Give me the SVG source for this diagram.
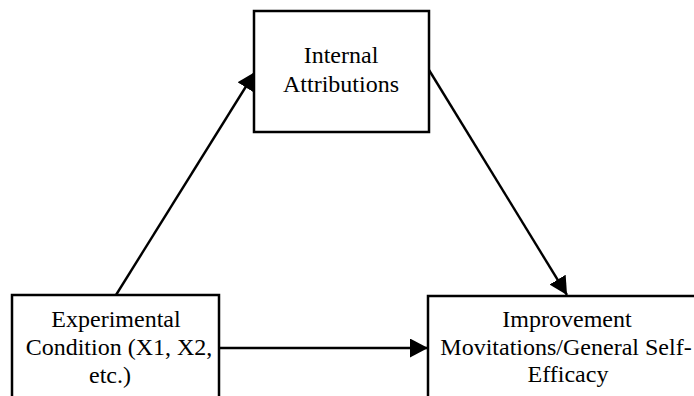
<svg xmlns="http://www.w3.org/2000/svg" width="694" height="396" viewBox="0 0 694 396">
  <style>
    .box { fill: #ffffff; stroke: #000000; stroke-width: 2.5; }
    .label { font-family: "Liberation Serif", "Times New Roman", serif; font-size: 24px; fill: #000000; text-anchor: middle; }
    .edge { stroke: #000000; stroke-width: 2.4; fill: none; marker-end: url(#head); }
  </style>
  <defs>
    <marker id="head" markerUnits="userSpaceOnUse" markerWidth="20" markerHeight="20" refX="18" refY="9.5" orient="auto">
      <path d="M0,0 L18,9.5 L0,19 Z" fill="#000000"/>
    </marker>
  </defs>
  <rect width="694" height="396" fill="#ffffff"/>

  <g id="connectors">
    <line class="edge" x1="116" y1="295" x2="255" y2="72"/>
    <line class="edge" x1="429" y1="70" x2="567" y2="295"/>
    <line class="edge" x1="219" y1="348" x2="428" y2="348"/>
  </g>

  <g id="internal-attributions">
    <rect class="box" x="254" y="11" width="175" height="121"/>
    <text class="label" x="341" y="63">Internal</text>
    <text class="label" x="341" y="92">Attributions</text>
  </g>

  <g id="experimental-condition">
    <rect class="box" x="12" y="295" width="207" height="110"/>
    <text class="label" x="116" y="327">Experimental</text>
    <text class="label" x="119" y="355">Condition (X1, X2,</text>
    <text class="label" x="110" y="383">etc.)</text>
  </g>

  <g id="improvement-motivations">
    <rect class="box" x="428" y="296" width="280" height="110"/>
    <text class="label" x="567" y="327">Improvement</text>
    <text class="label" x="566" y="355">Movitations/General Self-</text>
    <text class="label" x="568" y="382">Efficacy</text>
  </g>
</svg>
